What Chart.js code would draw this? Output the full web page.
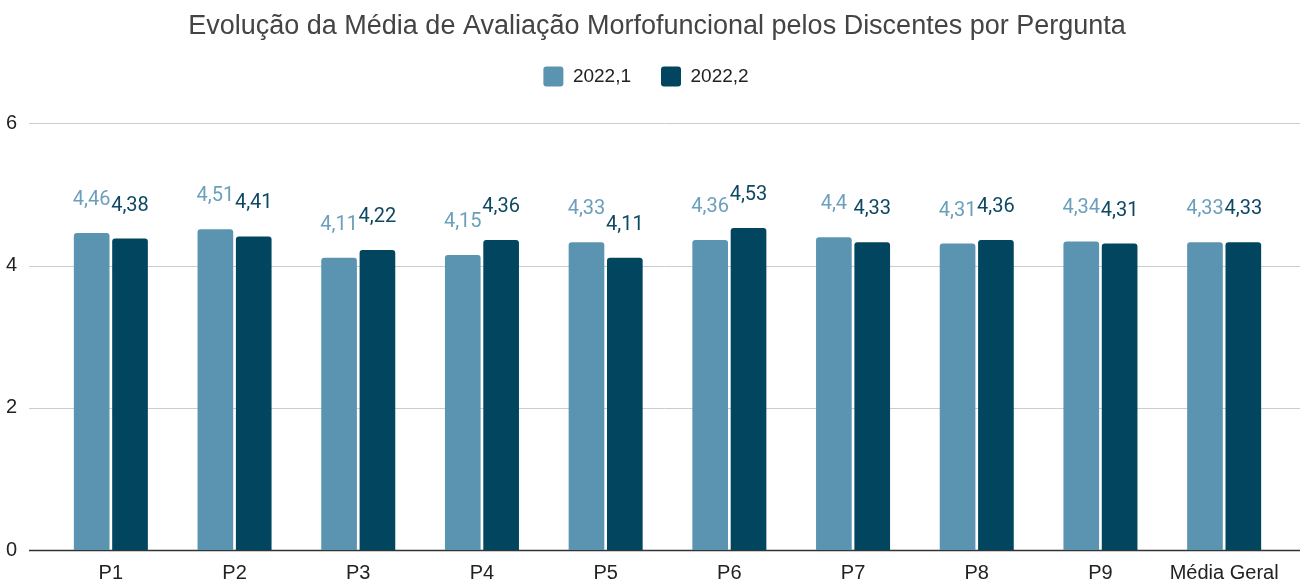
<!DOCTYPE html>
<html>
<head>
<meta charset="utf-8">
<script src="https://cdn.jsdelivr.net/npm/chart.js@4"></script>
<style>
  html, body { margin: 0; padding: 0; background: #fff; overflow: hidden; }
  canvas { display: block; }
</style>
</head>
<body>
<canvas id="myChartBar" width="1314" height="584"></canvas>
<script>
const perguntas = ['P1', 'P2', 'P3', 'P4', 'P5', 'P6', 'P7', 'P8', 'P9', 'Média Geral']
const media20221 = [4.46, 4.51, 4.11, 4.15, 4.33, 4.36, 4.4, 4.31, 4.34, 4.33]
const media20222 = [4.38, 4.41, 4.22, 4.36, 4.11, 4.53, 4.33, 4.36, 4.31, 4.33]
const yTicks = [0, 2, 4, 6]

const corClara = '#5b94b1'
const corEscura = '#01455f'
const fonte = "'Liberation Sans', Arial, sans-serif"

// grade horizontal que passa um pouco das barras, como no original
const gradeLarga = {
  id: 'gradeLarga',
  beforeDatasetsDraw(chart) {
    const { ctx, chartArea, scales } = chart
    ctx.save()
    yTicks.forEach(v => {
      const y = Math.round(scales.y.getPixelForValue(v)) + 0.5
      ctx.beginPath()
      ctx.strokeStyle = v === 0 ? '#333333' : '#cccccc'
      ctx.lineWidth = v === 0 ? 1.5 : 1
      ctx.moveTo(chartArea.left - 20, y)
      ctx.lineTo(chartArea.right + 14, y)
      ctx.stroke()
    })
    ctx.restore()
  }
}

// rótulos de valor acima das barras
const rotulos = {
  id: 'rotulos',
  afterDatasetsDraw(chart) {
    const { ctx } = chart
    ctx.save()
    ctx.textAlign = 'center'
    ctx.textBaseline = 'middle'
    chart.data.datasets.forEach((ds, i) => {
      const meta = chart.getDatasetMeta(i)
      ctx.fillStyle = i === 0 ? '#6b9fbc' : '#0d4863'
      ctx.font = '400 20px Roboto'
      meta.data.forEach((bar, j) => {
        const txt = String(ds.data[j]).replace('.', ',')
        ctx.fillText(txt, bar.x, bar.y - 33)
      })
    })
    ctx.restore()
  }
}

// espaço extra abaixo da legenda e título centrado na tela toda
const ajustes = {
  id: 'ajustes',
  beforeInit(chart) {
    const fitOrig = chart.legend.fit
    chart.legend.fit = function () {
      fitOrig.bind(chart.legend)()
      this.height += 27
    }
  },
  afterLayout(chart) {
    const t = chart.titleBlock
    if (t) t.right = chart.width - t.left
  }
}

const ctx = document.getElementById('myChartBar')
let graphBar = new Chart(ctx, {
  type: 'bar',
  plugins: [gradeLarga, rotulos, ajustes],
  options: {
    responsive: false,
    animation: false,
    layout: {
      autoPadding: false,
      padding: { left: 6, right: 28, top: 0, bottom: 0 }
    },
    plugins: {
      title: {
        display: true,
        text: 'Evolução da Média de Avaliação Morfofuncional pelos Discentes por Pergunta',
        color: '#444444',
        font: { family: fonte, size: 27, weight: 'normal' },
        padding: { top: 10, bottom: -6 }
      },
      legend: {
        display: true,
        labels: {
          boxWidth: 20,
          boxHeight: 20,
          useBorderRadius: true,
          borderRadius: 3,
          padding: 30,
          color: '#222222',
          font: { family: fonte, size: 19 }
        }
      },
      tooltip: { enabled: false }
    },
    scales: {
      x: {
        grid: { display: false, drawTicks: false },
        border: { display: false },
        afterFit(scale) {
          scale.height = 34
        },
        ticks: {
          color: '#222222',
          padding: 11,
          font: { family: fonte, size: 20 }
        }
      },
      y: {
        min: 0,
        max: 6,
        grid: { display: false, drawTicks: false },
        border: { display: false },
        afterBuildTicks(scale) {
          scale.ticks = yTicks.map(v => ({ value: v }))
        },
        afterFit(scale) {
          scale.width = 43
        },
        ticks: {
          color: '#222222',
          padding: 0,
          crossAlign: 'far',
          font: { family: fonte, size: 20 }
        }
      }
    }
  },
  data: {
    labels: perguntas,
    datasets: [{
      label: '2022,1',
      data: media20221,
      backgroundColor: corClara,
      borderRadius: { topLeft: 3, topRight: 3 },
      borderSkipped: 'start',
      categoryPercentage: 0.62,
      barPercentage: 0.93
    },
    {
      label: '2022,2',
      data: media20222,
      backgroundColor: corEscura,
      borderRadius: { topLeft: 3, topRight: 3 },
      borderSkipped: 'start',
      categoryPercentage: 0.62,
      barPercentage: 0.93
    }]
  }
})
</script>
</body>
</html>
